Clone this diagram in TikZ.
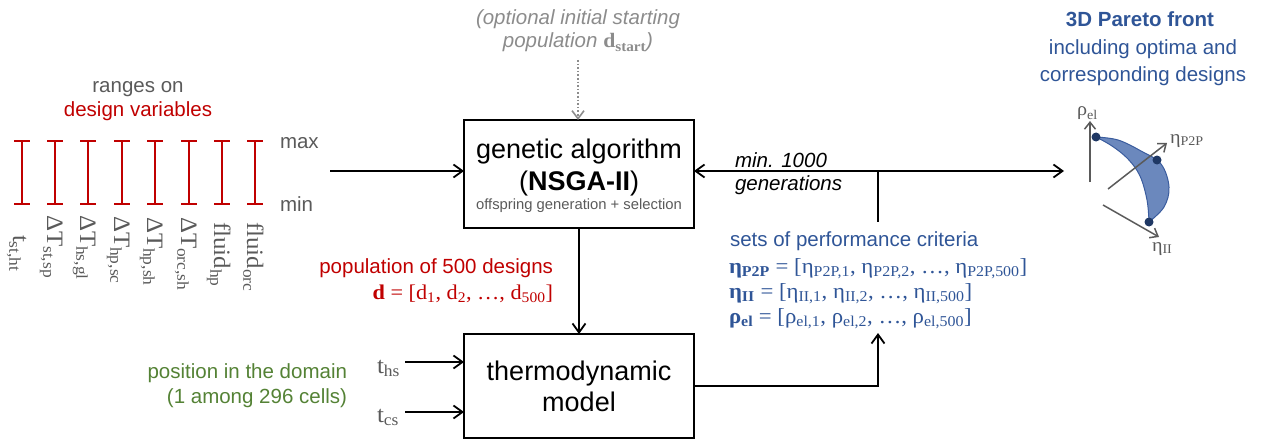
\documentclass[tikz,border=0pt]{standalone}
\usepackage{fontspec}
\setmainfont{Liberation Sans}
\newfontfamily\serf{Liberation Serif}
\newfontfamily\serfw[FakeStretch=1.06]{Liberation Serif}
\usetikzlibrary{arrows.meta}

\definecolor{dred}{HTML}{C00000}
\definecolor{dblue}{HTML}{2F5597}
\definecolor{dgreen}{HTML}{548235}
\definecolor{gtext}{HTML}{5A5A5A}
\definecolor{ltext}{HTML}{8C8C8C}
\definecolor{pfill}{HTML}{6B88BD}
\definecolor{pedge}{HTML}{3A5C9E}
\definecolor{pdot}{HTML}{1F3864}

\newcommand\fs[1]{\fontsize{#1}{#1}\selectfont}

\tikzset{
  every node/.style={inner sep=0pt, outer sep=0pt},
  flow/.style={line width=1.8pt, -{Straight Barb[length=9pt,width=13pt]}},
  plain/.style={line width=1.8pt},
  optflow/.style={line width=1.6pt, ltext, dotted, -{Straight Barb[length=8pt,width=12pt]}},
  blockbox/.style={draw, line width=1.4pt, minimum width=230pt},
  rangebar/.style={draw=dred, line width=1.3pt},
  varlabel/.style={rotate=-90, anchor=base west, text=gtext, font=\serfw\fs{23.5}},
  axis/.style={gtext, line width=1.5pt, -{Straight Barb[length=7pt,width=11pt]}},
  axlabel/.style={anchor=base west, text=gtext, font=\serfw\fs{19}},
  eqline/.style={anchor=base west, text=dblue, font=\serfw\fs{21.5}},
  label20/.style={font=\fs{20.5}},
  big/.style={font=\fs{27}},
}

\begin{document}
\begin{tikzpicture}[x=1pt,y=-1pt]
\useasboundingbox (0,0) rectangle (1268,441);

% ---- design-variable ranges ----
\node[label20, anchor=base, text=gtext] (rangeshead) at (138,93) {ranges on};
\node[label20, anchor=base, text=dred] (rangesred) at (138,117) {design variables};
\foreach \x in {22,55,88,122,155,189,222,255}{
  \draw[rangebar] (\x-8,141) -- (\x+8,141) (\x,141) -- (\x,204) (\x-8,204) -- (\x+8,204);
}
\node[label20, anchor=base west, text=gtext] (maxlbl) at (280,149) {max};
\node[label20, anchor=base west, text=gtext] (minlbl) at (280,211) {min};

\node[varlabel] (v1) at (13,235) {t\textsubscript{st,ht}};
\node[varlabel] (v2) at (47,215) {ΔT\textsubscript{st,sp}};
\node[varlabel] (v3) at (80,215) {ΔT\textsubscript{hs,gl}};
\node[varlabel] (v4) at (114,216) {ΔT\textsubscript{hp,sc}};
\node[varlabel] (v5) at (147,217) {ΔT\textsubscript{hp,sh}};
\node[varlabel] (v6) at (181,217) {ΔT\textsubscript{orc,sh}};
\node[varlabel] (v7) at (214,222) {fluid\textsubscript{hp}};
\node[varlabel] (v8) at (247,222) {fluid\textsubscript{orc}};

% ---- genetic algorithm block ----
\node[blockbox, minimum height=108pt] (ga) at (579,174) {};
\node[big, anchor=base] (gat1) at (579,158) {genetic algorithm};
\node[big, anchor=base] (gat2) at (579,190) {({\bfseries NSGA-II})};
\node[anchor=base, text=gtext, font=\fs{14.8}] (gat3) at (579,209) {offspring generation + selection};

% optional start population
\node[anchor=base, text=ltext, font=\itshape\fs{20.5}] (opt1) at (578,25) {(optional initial starting};
\node[anchor=base, text=ltext, font=\itshape\fs{20.5}] (opt2) at (578,48) {population {\upshape\serfw\bfseries d\textsubscript{start}})};
\coordinate (optout) at (578,60);
\draw[optflow] (optout) -- (optout |- ga.north);

% ranges into the algorithm
\coordinate (rangeout) at (330,171);
\draw[flow] (rangeout) -- (rangeout -| ga.west);

% ---- thermodynamic model block ----
\node[blockbox, minimum height=104pt] (tm) at (579,386) {};
\node[big, anchor=base] (tmt1) at (579,380) {thermodynamic};
\node[big, anchor=base] (tmt2) at (579,411) {model};

\draw[flow] (ga.south) -- (ga.south |- tm.north);

\node[label20, anchor=base east, text=dred] (pop1) at (553,273) {population of 500 designs};
\node[anchor=base east, text=dred, font=\serfw\fs{21}] (pop2) at (553,299) {\textbf{d} = [d\textsubscript{1}, d\textsubscript{2}, …, d\textsubscript{500}]};

% domain position inputs
\node[label20, anchor=base east, text=dgreen] (dom1) at (347,378) {position in the domain};
\node[label20, anchor=base east, text=dgreen] (dom2) at (347,403) {(1 among 296 cells)};
\node[anchor=base west, text=gtext, font=\serfw\fs{23.5}] (ths) at (377,373) {t\textsubscript{hs}};
\node[anchor=base west, text=gtext, font=\serfw\fs{23.5}] (tcs) at (377,422) {t\textsubscript{cs}};
\coordinate (hsout) at (405,362);
\coordinate (csout) at (405,412);
\draw[flow] (hsout) -- (hsout -| tm.west);
\draw[flow] (csout) -- (csout -| tm.west);

% ---- performance criteria and feedback loop ----
\coordinate (junc) at (878,171);
\coordinate (crtop) at (878,222);
\coordinate (crbot) at (878,333);
\coordinate (front) at (1064,171);
\draw[flow] (junc) -- (front);
\draw[flow] (junc) -- (junc -| ga.east);
\draw[plain] (junc) -- (crtop);
\draw[flow] (tm.east) -| (crbot);

\node[anchor=base west, font=\itshape\fs{20.5}] (gen1) at (735,167) {min. 1000};
\node[anchor=base west, font=\itshape\fs{20.5}] (gen2) at (735,190) {generations};

\node[label20, anchor=base west, text=dblue] (crit) at (730,246) {sets of performance criteria};
\node[eqline] (eq1) at (729,273)
  {\textbf{η\textsubscript{P2P}} = [η\textsubscript{P2P,1}, η\textsubscript{P2P,2}, …, η\textsubscript{P2P,500}]};
\node[eqline] (eq2) at (729,298)
  {\textbf{η\textsubscript{II}} = [η\textsubscript{II,1}, η\textsubscript{II,2}, …, η\textsubscript{II,500}]};
\node[eqline] (eq3) at (729,323)
  {\textbf{ρ\textsubscript{el}} = [ρ\textsubscript{el,1}, ρ\textsubscript{el,2}, …, ρ\textsubscript{el,500}]};

% ---- Pareto front ----
\node[anchor=base, text=dblue, font=\bfseries\fs{20.5}] (pf1) at (1140,27) {3D Pareto front};
\node[label20, anchor=base, text=dblue] (pf2) at (1143,55) {including optima and};
\node[label20, anchor=base, text=dblue] (pf3) at (1143,82) {corresponding designs};

\filldraw[fill=pfill, draw=pedge, line width=1pt]
  plot[smooth, tension=0.6] coordinates {(1096,137) (1118,140) (1141,151) (1161,164) (1169,187) (1164,207) (1149,222)}
  -- plot[smooth, tension=0.6] coordinates {(1149,222) (1147,200) (1140,176) (1128,159) (1112,146) (1096,137)}
  -- cycle;

\draw[axis] (1090,182) -- (1090,121);
\draw[axis] (1108,189) -- (1167,143);
\draw[axis] (1103,205) -- (1159,237);
\node[axlabel] (lrho) at (1077,116) {ρ\textsubscript{el}};
\node[axlabel] (leta1) at (1170,143) {η\textsubscript{P2P}};
\node[axlabel] (leta2) at (1152,251) {η\textsubscript{II}};

\fill[pdot] (1096,137) circle (4.5);
\fill[pdot] (1157,160) circle (4.5);
\fill[pdot] (1149,222) circle (4.5);
\end{tikzpicture}
\end{document}
